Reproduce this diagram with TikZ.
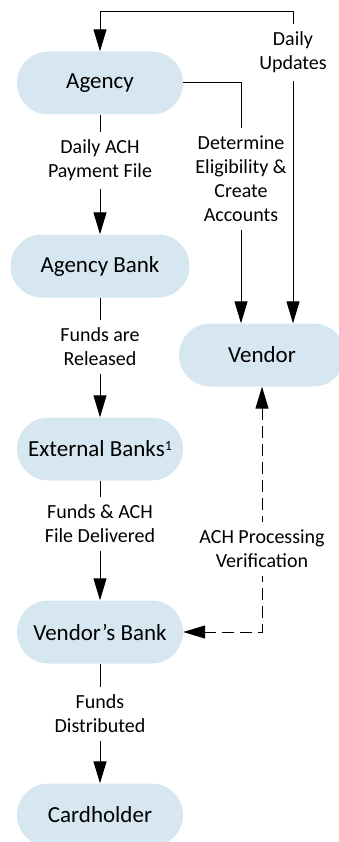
\documentclass[tikz,border=0pt]{standalone}
\usepackage{fontspec}
\setmainfont{Carlito}
\usetikzlibrary{arrows.meta}
\definecolor{boxblue}{RGB}{214,231,241}

\begin{document}
\begin{tikzpicture}[x=1pt, y=-1pt,
    box/.style={fill=boxblue, rounded corners=31.5pt, minimum width=166pt, minimum height=63pt, font=\fontsize{23}{28}\selectfont},
    lbl/.style={fill=white, align=center, inner xsep=2pt, inner ysep=8pt, font=\fontsize{20}{24}\selectfont},
    arr/.style={line width=1pt, -{Triangle[length=22pt, width=13pt]}},
    arrs/.style={line width=1pt, {Triangle[length=22pt, width=13pt]}-{Triangle[length=22pt, width=13pt]}},
    darr/.style={arrs, dash pattern=on 12pt off 6pt}]
    \useasboundingbox (0,0) rectangle (339,842);

    \node[box] (agency) at (100,83) {Agency};
    \node[box, minimum width=179pt] (agencybank) at (100,266) {Agency Bank};
    \node[box] (extbanks) at (100,449) {External Banks\raisebox{0.3em}{\fontsize{14}{14}\selectfont 1}};
    \node[box] (vendorbank) at (100,632) {Vendor’s Bank};
    \node[box] (cardholder) at (100,815) {Cardholder};
    \node[box] (vendor) at (262,355) {Vendor};

    \coordinate (topleft) at (100,12);
    \coordinate (topright) at (293,12);
    \coordinate (elbow) at (241,83);
    \coordinate (dcorner) at (262,632);

    % main chain
    \draw[arr] (agency) -- node[lbl, pos=0.38] {Daily ACH\\Payment File} (agencybank);
    \draw[arr] (agencybank) -- node[lbl, pos=0.41] {Funds are\\Released} (extbanks);
    \draw[arr] (extbanks) -- node[lbl, pos=0.36] {Funds \& ACH\\File Delivered} (vendorbank);
    \draw[arr] (vendorbank) -- node[lbl, pos=0.42] {Funds\\Distributed} (cardholder);

    % links to the vendor
    \draw[arrs] (agency.north) -- (topleft) -- (topright) -- node[lbl, pos=0.13] {Daily\\Updates} (topright |- vendor.north);
    \draw[arr] (agency.east) -- (elbow) -- node[lbl, pos=0.40] {Determine\\Eligibility \&\\Create\\Accounts} (elbow |- vendor.north);
    \draw[darr] (vendor.south) -- node[lbl, pos=0.66] {ACH Processing\\Verification} (dcorner) -- (vendorbank.east);
\end{tikzpicture}
\end{document}
